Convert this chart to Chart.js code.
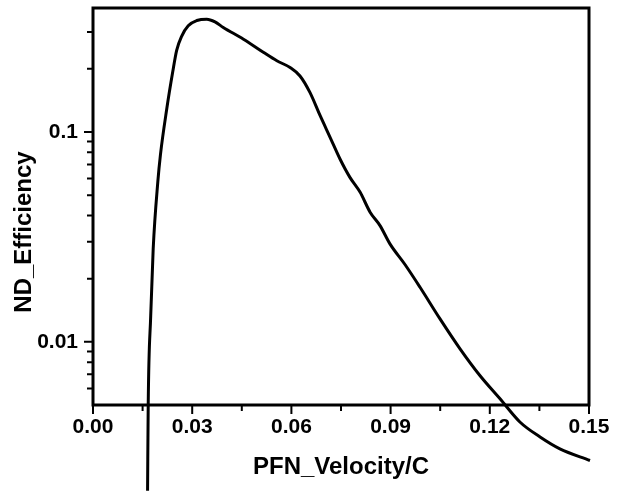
<!DOCTYPE html>
<html>
<head>
<meta charset="utf-8">
<script src="https://cdn.jsdelivr.net/npm/chart.js@4.4.0/dist/chart.umd.min.js"></script>
<style>
  html, body { margin: 0; padding: 0; background: #fff; }
  #wrap { width: 620px; height: 499px; }
</style>
</head>
<body>
<div id="wrap"><canvas id="chart"></canvas></div>
<script>
// Curve: PFN velocity (in units of c) vs ND efficiency
const velocity = [
    0.0165, 0.0167, 0.01745, 0.0182, 0.0196, 0.0204, 0.0223, 0.0241, 0.0253,
    0.0268, 0.0288, 0.0314, 0.0344, 0.0369, 0.0394, 0.0455, 0.0515, 0.0556, 0.0596,
    0.0626, 0.0656, 0.0687, 0.0717, 0.0747, 0.0777, 0.0808, 0.0838, 0.0868, 0.0898,
    0.0944, 0.0989, 0.1049, 0.1110, 0.1170, 0.1231, 0.1291, 0.1352, 0.1412, 0.1503
];
const efficiency = [
    0.00195, 0.00507, 0.0133, 0.0277, 0.0578, 0.078, 0.1287, 0.193, 0.245,
    0.286, 0.321, 0.340, 0.345, 0.335, 0.315, 0.277, 0.240, 0.2185, 0.203,
    0.185, 0.1545, 0.1196, 0.0944, 0.0744, 0.0608, 0.0516, 0.0415, 0.0358, 0.0293,
    0.0233, 0.0182, 0.0129, 0.00926, 0.00691, 0.00535, 0.00415, 0.00352, 0.00309, 0.00272
];

// Tick positions
const xMajorTicks = [0, 0.03, 0.06, 0.09, 0.12, 0.15];
const xMinorTicks = [0.015, 0.045, 0.075, 0.105, 0.135];
const yMajorTicks = [0.01, 0.1];
const yMinorTicks = [0.006, 0.007, 0.008, 0.009,
    0.02, 0.03, 0.04, 0.05, 0.06, 0.07, 0.08, 0.09,
    0.2, 0.3];

const yTitle = 'ND_Efficiency';
const fontFamily = "'Liberation Sans', Arial, sans-serif";

// Box around the plot, outward tick marks and the rotated y title
const frameAndTicks = {
    id: 'frameAndTicks',
    afterDraw(chart) {
        const { ctx, chartArea: a, scales: { x, y } } = chart;
        ctx.save();
        ctx.strokeStyle = '#000';
        ctx.lineWidth = 3;
        ctx.strokeRect(a.left, a.top, a.right - a.left, a.bottom - a.top);

        ctx.lineWidth = 2;
        ctx.beginPath();
        xMajorTicks.forEach(v => {
            const px = x.getPixelForValue(v);
            ctx.moveTo(px, a.bottom);
            ctx.lineTo(px, a.bottom + 9);
        });
        xMinorTicks.forEach(v => {
            const px = x.getPixelForValue(v);
            ctx.moveTo(px, a.bottom);
            ctx.lineTo(px, a.bottom + 6);
        });
        yMajorTicks.forEach(v => {
            const py = y.getPixelForValue(v);
            ctx.moveTo(a.left, py);
            ctx.lineTo(a.left - 9, py);
        });
        yMinorTicks.forEach(v => {
            const py = y.getPixelForValue(v);
            ctx.moveTo(a.left, py);
            ctx.lineTo(a.left - 6, py);
        });
        ctx.stroke();

        ctx.fillStyle = '#000';
        ctx.font = 'bold 24px ' + fontFamily;
        ctx.textAlign = 'center';
        ctx.textBaseline = 'middle';
        ctx.translate(24, 232);
        ctx.rotate(-Math.PI / 2);
        ctx.fillText(yTitle, 0, 0);
        ctx.restore();
    }
};

const ctx = document.getElementById('chart').getContext('2d');
const myChart = new Chart(ctx, {
    type: 'line',
    data: {
        datasets: [{
            data: velocity.map((v, i) => ({ x: v, y: efficiency[i] })),
            borderColor: '#000',
            borderWidth: 3,
            pointRadius: 0,
            fill: false,
            cubicInterpolationMode: 'monotone',
            clip: false
        }]
    },
    options: {
        responsive: true,
        maintainAspectRatio: false,
        animation: false,
        layout: { padding: { left: 0, right: 31, top: 8, bottom: 0 } },
        plugins: {
            legend: { display: false },
            tooltip: { enabled: false }
        },
        scales: {
            x: {
                type: 'linear',
                min: 0,
                max: 0.15,
                grid: { display: false, drawTicks: false },
                border: { display: false },
                afterBuildTicks: s => { s.ticks = xMajorTicks.map(v => ({ value: v })); },
                afterFit: s => { s.height = 94; s.paddingLeft = 0; s.paddingRight = 0; },
                ticks: {
                    padding: 10,
                    color: '#000',
                    maxRotation: 0,
                    font: { family: fontFamily, size: 21, weight: 'bold' },
                    callback: v => v.toFixed(2)
                },
                title: {
                    display: true,
                    text: 'PFN_Velocity/C',
                    color: '#000',
                    font: { family: fontFamily, size: 24, weight: 'bold' },
                    padding: { top: 0, bottom: 17 }
                }
            },
            y: {
                type: 'logarithmic',
                min: 0.005,
                max: 0.39,
                grid: { display: false, drawTicks: false },
                border: { display: false },
                afterBuildTicks: s => { s.ticks = yMajorTicks.map(v => ({ value: v })); },
                afterFit: s => { s.width = 93; s.paddingTop = 0; s.paddingBottom = 0; },
                ticks: {
                    padding: 15,
                    color: '#000',
                    font: { family: fontFamily, size: 21, weight: 'bold' },
                    callback: v => String(v)
                }
            }
        }
    },
    plugins: [frameAndTicks]
});
</script>
</body>
</html>
